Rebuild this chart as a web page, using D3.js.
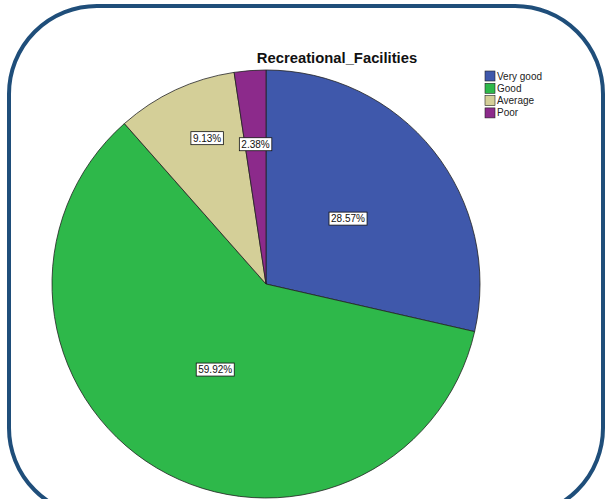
<!DOCTYPE html>
<html>
<head>
<meta charset="utf-8">
<script src="https://cdn.jsdelivr.net/npm/d3@7/dist/d3.min.js"></script>
<style>
  html, body { margin: 0; padding: 0; background: #ffffff; }
  svg { display: block; }
</style>
</head>
<body>
<svg id="chart" width="607" height="499"></svg>
<script>
// ---- data ----
const categories = ["Very good", "Good", "Average", "Poor"];
const percents = [28.57, 59.92, 9.13, 2.38];
const colors = ["#3f58ab", "#2eb84a", "#d4cf98", "#8c2a8b"];
const titleText = "Recreational_Facilities";

// ---- layout ----
const W = 607, H = 499;
const cx = 266, cy = 284, R = 214;
const labelRadiusFrac = [0.49, 0.465, 0.735, 0.655];
const labelAngleShiftDeg = [0, 0, 3, 0];

const svg = d3.select("#chart");

// frame
svg.append("rect")
  .attr("x", 9).attr("y", 6)
  .attr("width", 594).attr("height", 510)
  .attr("rx", 88).attr("ry", 88)
  .attr("fill", "#ffffff")
  .attr("stroke", "#1f4e7a")
  .attr("stroke-width", 4);

// title
svg.append("text")
  .attr("x", 337).attr("y", 63)
  .attr("text-anchor", "middle")
  .attr("font-family", "Arial, 'Liberation Sans', sans-serif")
  .attr("font-weight", "bold")
  .attr("font-size", 14.8)
  .attr("fill", "#111")
  .text(titleText);

// pie
const pie = d3.pie().sort(null).value(d => d);
const arcs = pie(percents);
const arc = d3.arc().innerRadius(0).outerRadius(R);

const g = svg.append("g").attr("transform", `translate(${cx},${cy})`);
g.selectAll("path.slice")
  .data(arcs)
  .enter().append("path")
  .attr("class", "slice")
  .attr("d", arc)
  .attr("fill", (d, i) => colors[i])
  .attr("stroke", "#222")
  .attr("stroke-width", 0.8);

// labels
const lab = g.selectAll("g.lab")
  .data(arcs)
  .enter().append("g")
  .attr("class", "lab")
  .attr("transform", (d, i) => {
    const a = (d.startAngle + d.endAngle) / 2 + labelAngleShiftDeg[i] * Math.PI / 180;
    const r = R * labelRadiusFrac[i];
    return `translate(${r * Math.sin(a)},${-r * Math.cos(a)})`;
  });

lab.each(function(d, i) {
  const gg = d3.select(this);
  const t = gg.append("text")
    .attr("text-anchor", "middle")
    .attr("dominant-baseline", "central")
    .attr("font-family", "Arial, 'Liberation Sans', sans-serif")
    .attr("font-size", 10)
    .attr("fill", "#111")
    .text(percents[i].toFixed(2) + "%");
  const bb = t.node().getBBox();
  gg.insert("rect", "text")
    .attr("x", bb.x - 2).attr("y", -6.5)
    .attr("width", bb.width + 4).attr("height", 13)
    .attr("fill", "#ffffff")
    .attr("stroke", "#111")
    .attr("stroke-width", 0.8);
});

// legend
const legend = svg.append("g").attr("transform", "translate(485,71)");
const rows = legend.selectAll("g.row")
  .data(categories)
  .enter().append("g")
  .attr("class", "row")
  .attr("transform", (d, i) => `translate(0,${i * 12.3})`);
rows.append("rect")
  .attr("width", 10).attr("height", 10)
  .attr("fill", (d, i) => colors[i])
  .attr("stroke", "#222")
  .attr("stroke-width", 0.6);
rows.append("text")
  .attr("x", 12).attr("y", 5)
  .attr("dominant-baseline", "central")
  .attr("font-family", "Arial, 'Liberation Sans', sans-serif")
  .attr("font-size", 10)
  .attr("fill", "#222")
  .text(d => d);
</script>
</body>
</html>
